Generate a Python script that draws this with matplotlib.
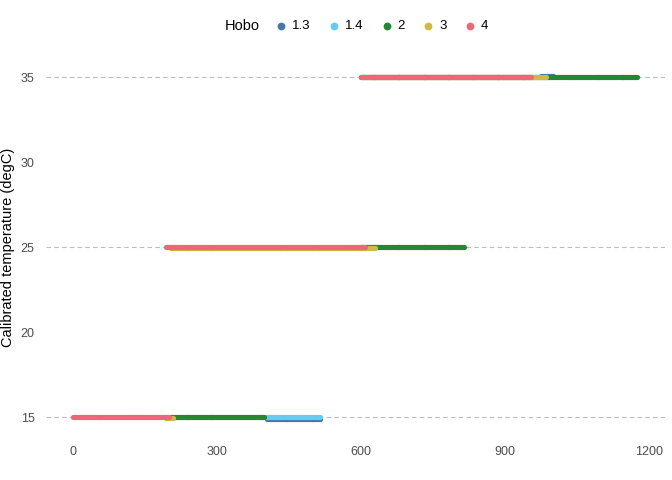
import numpy as np
import matplotlib.pyplot as plt
from matplotlib.offsetbox import HPacker

plt.rcParams['font.family'] = ['Liberation Sans', 'DejaVu Sans']

# hobo id, temperature setpoint, x start, x end, reading
hobos = ['1.3', '1.4', '2', '3', '4']
colors = {'1.3': '#4477AA', '1.4': '#66CCEE', '2': '#228833',
          '3': '#CCBB44', '4': '#EE6677'}
segments = {
    '1.3': [(15, 405, 515, 14.93), (35, 975, 1000, 35.05)],
    '1.4': [(15, 400, 515, 15.0)],
    '2':   [(15, 205, 400, 15.0), (25, 600, 815, 25.0), (35, 600, 1175, 35.0)],
    '3':   [(15, 195, 210, 14.97), (25, 205, 630, 24.95), (35, 605, 985, 35.0)],
    '4':   [(15, 0, 200, 15.0), (25, 195, 610, 25.0), (35, 600, 955, 35.0)],
}

fig, ax = plt.subplots(figsize=(6.72, 4.8), dpi=100)
fig.subplots_adjust(left=0.068, right=0.99, top=0.875, bottom=0.095)

for h in hobos:
    xs, ys = [], []
    for _, x0, x1, yv in segments[h]:
        pts = np.arange(x0, x1 + 1, 2)
        xs.append(pts)
        ys.append(np.full(len(pts), yv))
    ax.scatter(np.concatenate(xs), np.concatenate(ys), s=14, color=colors[h],
               label=h, linewidths=0)

ax.set_xlim(-56, 1233)
ax.set_ylim(14.0, 36.0)
ax.set_xticks([0, 300, 600, 900, 1200])
ax.set_yticks([15, 20, 25, 30, 35])
ax.set_ylabel('Calibrated temperature (degC)', fontsize=10.5, color='black', labelpad=4)
for y in [15, 25, 35]:
    ax.axhline(y, color='#bbbbbb', ls=(0, (4, 3)), lw=0.8, zorder=0)
for s in ax.spines.values():
    s.set_visible(False)
ax.tick_params(length=0, labelsize=9, colors='#4d4d4d', pad=8)

leg = fig.legend(loc='upper center', ncol=5, frameon=False, title='Hobo',
                 bbox_to_anchor=(0.53, 0.985), handletextpad=0.2,
                 columnspacing=1.2, fontsize=9.5, markerscale=1.5,
                 handlelength=1.2)
leg.get_title().set_fontsize(10.5)
box = leg._legend_box
box._children = [HPacker(children=list(box.get_children()), align='center',
                         pad=0, sep=10)]
fig.savefig('out.png')
